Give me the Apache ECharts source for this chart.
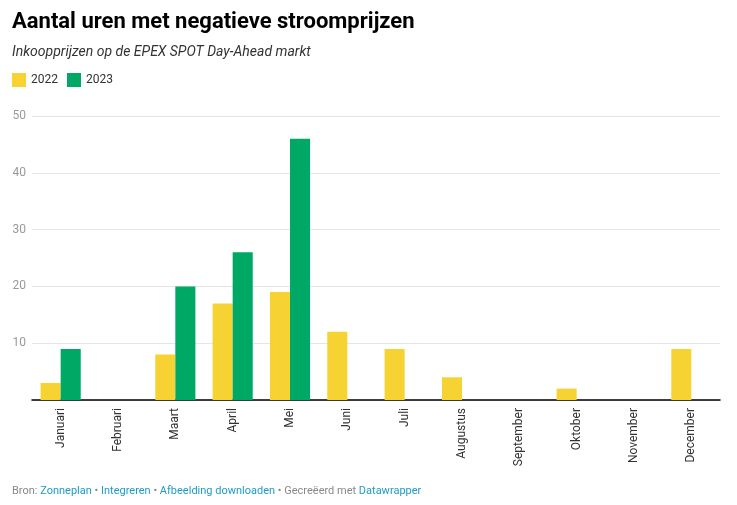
<!DOCTYPE html>
<html>
<head>
<meta charset="utf-8">
<script src="https://cdn.jsdelivr.net/npm/echarts@6/dist/echarts.min.js"></script>
<style>
  html, body { margin: 0; padding: 0; background: #fff; }
  #chart { width: 737px; height: 505px; }
</style>
</head>
<body>
<div id="chart"></div>
<script>
var maanden = ['Januari', 'Februari', 'Maart', 'April', 'Mei', 'Juni', 'Juli', 'Augustus', 'September', 'Oktober', 'November', 'December'];
var uren2022 = [3, 0, 8, 17, 19, 12, 9, 4, 0, 2, 0, 9];
var uren2023 = [9, 0, 20, 26, 46, null, null, null, null, null, null, null];
var yTicks = [0, 10, 20, 30, 40, 50];

var myChart = echarts.init(document.getElementById('chart'));
var option = {
  animation: false,
  textStyle: { fontFamily: 'Roboto' },
  title: [
    {
      text: 'Aantal uren met negatieve stroomprijzen',
      left: 12, top: 11, padding: 0,
      textStyle: { fontSize: 22, fontWeight: 'bold', color: '#000', fontFamily: 'Roboto' }
    },
    {
      text: 'Inkoopprijzen op de EPEX SPOT Day-Ahead markt',
      left: 12, top: 45, padding: 0,
      textStyle: { fontSize: 14, fontStyle: 'italic', fontWeight: 'normal', color: '#333', fontFamily: 'Roboto' }
    }
  ],
  legend: {
    left: 12, top: 73, padding: 0,
    icon: 'rect', itemWidth: 14, itemHeight: 14, itemGap: 9,
    textStyle: { fontSize: 12, color: '#333' },
    data: ['2022', '2023']
  },
  grid: { left: 32, right: 17, top: 116, bottom: 105 },
  xAxis: {
    type: 'category',
    data: maanden,
    axisLine: { lineStyle: { color: '#000', width: 1.5 } },
    axisTick: { show: false },
    axisLabel: { rotate: 90, color: '#333', fontSize: 12, margin: 8 }
  },
  yAxis: {
    type: 'value',
    min: yTicks[0], max: yTicks[yTicks.length - 1], interval: 10,
    axisLabel: {
      color: '#999', fontSize: 12, margin: 6,
      formatter: function (v) { return v === 0 ? '' : String(v); }
    },
    splitLine: { lineStyle: { color: '#e5e5e5' } },
    axisLine: { show: false },
    axisTick: { show: false }
  },
  series: [
    {
      name: '2022', type: 'bar', data: uren2022,
      itemStyle: { color: '#f7d233' },
      barGap: '0%', barCategoryGap: '30%'
    },
    {
      name: '2023', type: 'bar', data: uren2023,
      itemStyle: { color: '#00a865' },
      barGap: '0%', barCategoryGap: '30%'
    }
  ],
  graphic: [
    {
      type: 'text', left: 12, top: 486,
      style: {
        text: 'Bron: {l|Zonneplan} • {l|Integreren} • {l|Afbeelding downloaden} • Gecreëerd met {l|Datawrapper}',
        fontSize: 11, fill: '#888', fontFamily: 'Roboto',
        rich: { l: { fill: '#1d9bc6', fontSize: 11, fontFamily: 'Roboto' } }
      }
    }
  ]
};
myChart.setOption(option);
</script>
</body>
</html>
